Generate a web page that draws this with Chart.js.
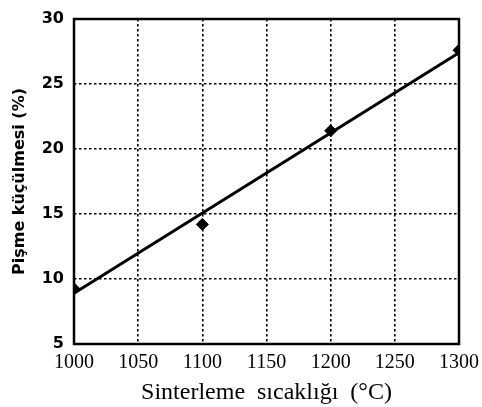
<!DOCTYPE html>
<html>
<head>
<meta charset="utf-8">
<script src="https://cdn.jsdelivr.net/npm/chart.js@4/dist/chart.umd.min.js"></script>
<style>
html,body{margin:0;padding:0;background:#fff;}
#wrap{width:482px;height:407px;}
</style>
</head>
<body>
<div id="wrap"><canvas id="c" width="482" height="407"></canvas></div>
<script>
// Data
const temperatures = [1000, 1100, 1200, 1300];
const shrinkage = [9.25, 14.2, 21.4, 27.6];
const fitTemps = [1000, 1300];
const fitValues = [8.9, 27.4];
const xTicks = [1000, 1050, 1100, 1150, 1200, 1250, 1300];
const yTicks = [5, 10, 15, 20, 25, 30];
const xTitle = 'Sinterleme  sıcaklığı  (°C)';
const yTitle = 'Pişme küçülmesi (%)';

const frame = {
  id: 'frame',
  afterDraw(chart) {
    const a = chart.chartArea, ctx = chart.ctx;
    ctx.save();
    ctx.strokeStyle = '#000';
    ctx.lineWidth = 2.5;
    ctx.strokeRect(a.left, a.top, a.right - a.left, a.bottom - a.top);
    ctx.restore();
  }
};

new Chart(document.getElementById('c'), {
  type: 'scatter',
  data: {
    datasets: [
      {
        label: 'fit',
        data: fitTemps.map((x, i) => ({x, y: fitValues[i]})),
        showLine: true,
        borderColor: '#000',
        borderWidth: 3,
        pointRadius: 0,
        fill: false
      },
      {
        label: 'data',
        data: temperatures.map((x, i) => ({x, y: shrinkage[i]})),
        pointStyle: 'rectRot',
        pointRadius: 6,
        backgroundColor: '#000',
        borderColor: '#000',
        showLine: false
      }
    ]
  },
  options: {
    responsive: false,
    animation: false,
    layout: {padding: {left: 0, right: 23, top: 19, bottom: 0}},
    plugins: {legend: {display: false}, tooltip: {enabled: false}},
    scales: {
      x: {
        type: 'linear',
        min: 1000, max: 1300,
        afterBuildTicks(s) { s.ticks = xTicks.map(v => ({value: v})); },
        afterFit(s) { s.height = 63; s.paddingRight = 0; s.paddingLeft = 0; },
        grid: {color: '#000', lineWidth: 1.6, drawTicks: false},
        border: {display: false, dash: [2.5, 2.5]},
        ticks: {color: '#000', padding: 7, callback: v => String(v),
                font: {family: '"Liberation Serif"', size: 20}},
        title: {display: true, text: xTitle, color: '#000', padding: {top: 0, bottom: 0},
                font: {family: '"Liberation Serif"', size: 24}}
      },
      y: {
        min: 5, max: 30,
        afterBuildTicks(s) { s.ticks = yTicks.map(v => ({value: v})); },
        afterFit(s) { s.width = 74; s.paddingTop = 0; s.paddingBottom = 0; },
        grid: {color: '#000', lineWidth: 1.6, drawTicks: false},
        border: {display: false, dash: [2.5, 2.5]},
        ticks: {color: '#000', padding: 10, callback: v => String(v),
                font: {family: '"DejaVu Sans"', size: 16, weight: 'bold'}},
        title: {display: true, text: yTitle, color: '#000', padding: {top: 10, bottom: 0},
                font: {family: '"DejaVu Sans"', size: 16, weight: 'bold'}}
      }
    }
  },
  plugins: [frame]
});
</script>
</body>
</html>
